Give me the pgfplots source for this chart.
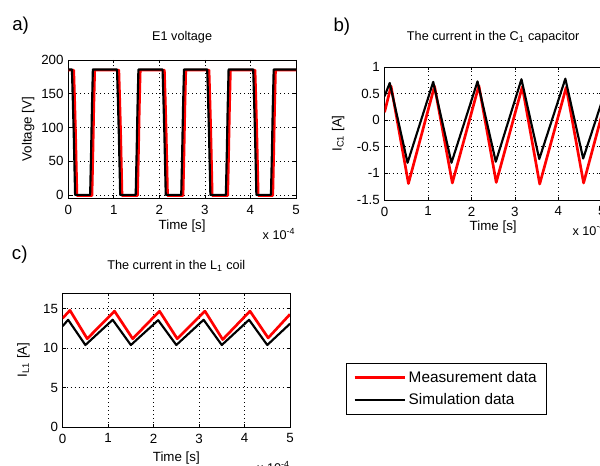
\documentclass[border=0pt]{standalone}
\usepackage{pgfplots}
\pgfplotsset{compat=1.18}
\usepackage{fontspec}
\setmainfont{Liberation Sans}

% matlab-ish look
\pgfplotsset{
  mstyle/.style={
    scale only axis, anchor=south west,
    xmin=0, xmax=5, xtick={0,...,5},
    tick align=inside, major tick length=2.5pt,
    grid=major,
    major grid style={black, line width=0.5pt, dash pattern=on 0.7pt off 2.3pt},
    axis line style={line width=0.6pt},
    every tick/.style={black, line width=0.5pt},
    tick label style={font=\fontsize{10}{12}\selectfont},
    xticklabel style={yshift=-1.5pt},
    label style={font=\fontsize{10}{12}\selectfont},
    title style={font=\fontsize{9.5}{11}\selectfont, anchor=base},
    /pgf/number format/assume math mode=true,
  },
  meas/.style={red, line width=2pt, line join=round},
  sim/.style={black, line width=1.6pt, line join=round},
}

\begin{document}
\begin{tikzpicture}
\path[use as bounding box] (0,0) rectangle (450pt,-349.5pt);

% a) E1 voltage
\begin{axis}[mstyle, at={(51.2pt,-148.7pt)}, width=170.8pt, height=103.7pt,
  ymin=-5, ymax=200, ytick={0,50,...,200},
  title={E1 voltage}, title style={at={(axis description cs:0.5,1)}, yshift=8.8pt},
  xlabel={Time [s]}, xlabel style={at={(axis description cs:0.5,-0.226)}, anchor=base},
  ylabel={Voltage [V]}, ylabel style={at={(axis description cs:-0.176,0.5)}, anchor=center},
]
\addplot[meas] coordinates {
(0,185)(0.12,185)(0.14,140)(0.16,90)(0.18,30)(0.19,-1)(0.52,-1)(0.54,60)(0.56,130)(0.58,185)
(1.11,185)(1.13,140)(1.15,90)(1.17,30)(1.18,-1)(1.52,-1)(1.54,60)(1.56,130)(1.58,185)
(2.11,185)(2.13,140)(2.15,90)(2.17,30)(2.18,-1)(2.52,-1)(2.54,60)(2.56,130)(2.58,185)
(3.09,185)(3.11,140)(3.13,90)(3.15,30)(3.16,-1)(3.50,-1)(3.52,60)(3.54,130)(3.56,185)
(4.10,185)(4.12,140)(4.14,90)(4.16,30)(4.17,-1)(4.49,-1)(4.51,60)(4.53,130)(4.55,185)
(5,185)};
\addplot[sim] coordinates {
(0,186)(0.08,186)(0.10,140)(0.12,90)(0.14,30)(0.15,0)(0.48,0)(0.50,60)(0.52,130)(0.54,186)
(1.07,186)(1.09,140)(1.11,90)(1.13,30)(1.14,0)(1.48,0)(1.50,60)(1.52,130)(1.54,186)
(2.07,186)(2.09,140)(2.11,90)(2.13,30)(2.14,0)(2.48,0)(2.50,60)(2.52,130)(2.54,186)
(3.05,186)(3.07,140)(3.09,90)(3.11,30)(3.12,0)(3.46,0)(3.48,60)(3.50,130)(3.52,186)
(4.06,186)(4.08,140)(4.10,90)(4.12,30)(4.13,0)(4.45,0)(4.47,60)(4.49,130)(4.51,186)
(5,186)};
\end{axis}

% b) current in C1
\begin{axis}[mstyle, at={(288.4pt,-150pt)}, width=163pt, height=99.75pt,
  ymin=-1.5, ymax=1, ytick={-1.5,-1,...,1},
  title={The current in the C\textsubscript{1} capacitor},
  title style={at={(axis description cs:0.5,1)}, yshift=14pt},
  xlabel={Time [s]}, xlabel style={at={(axis description cs:0.5,-0.233)}, anchor=base},
  ylabel={I\textsubscript{C1} [A]}, ylabel style={at={(axis description cs:-0.213,0.5)}, anchor=center},
]
\addplot[meas] coordinates {
(0,0.15)(0.15,0.64)(0.55,-1.19)(1.15,0.64)(1.56,-1.18)(2.17,0.65)(2.57,-1.17)
(3.17,0.63)(3.57,-1.20)(4.18,0.62)(4.58,-1.18)(5,0.1)};
\addplot[sim] coordinates {
(0,0.45)(0.12,0.70)(0.53,-0.80)(1.12,0.72)(1.54,-0.80)(2.14,0.73)(2.56,-0.78)
(3.15,0.77)(3.56,-0.73)(4.16,0.78)(4.57,-0.72)(5,0.35)};
\end{axis}

% c) current in L1
\begin{axis}[mstyle, at={(47pt,-320.25pt)}, width=170.5pt, height=100.5pt,
  ymin=0, ymax=17, ytick={0,5,10,15},
  title={The current in the L\textsubscript{1} coil},
  title style={at={(axis description cs:0.5,1)}, yshift=11.7pt},
  xlabel={Time [s]}, xlabel style={at={(axis description cs:0.5,-0.254)}, anchor=base},
  ylabel={I\textsubscript{L1} [A]}, ylabel style={at={(axis description cs:-0.173,0.5)}, anchor=center},
  legend style={at={(1.2464,0.4776)}, anchor=north west, draw=black, line width=0.6pt,
    font=\fontsize{11.5}{13}\selectfont, inner xsep=5.25pt, inner ysep=3.75pt,
    row sep=2.75pt, cells={anchor=west}},
  legend image code/.code={\draw[#1] (0pt,0pt) -- (37.5pt,0pt);},
]
\addplot[meas] coordinates {
(0,13.8)(0.16,14.8)(0.54,11.2)(1.14,14.7)(1.54,11.2)(2.13,14.7)(2.52,11.2)
(3.13,14.7)(3.52,11.1)(4.12,14.7)(4.52,11.3)(5,14.3)};
\addlegendentry{Measurement data}
\addplot[sim] coordinates {
(0,12.8)(0.12,13.6)(0.5,10.4)(1.1,13.6)(1.5,10.4)(2.1,13.55)(2.5,10.4)
(3.1,13.6)(3.5,10.4)(4.1,13.6)(4.5,10.4)(5,13.1)};
\addlegendentry{Simulation data}
\end{axis}

% panel letters and axis scale notes
\node[anchor=base west, font=\fontsize{14}{16}\selectfont, inner sep=0pt] at (9pt,-23pt) {a)};
\node[anchor=base west, font=\fontsize{14}{16}\selectfont, inner sep=0pt] at (250pt,-23.8pt) {b)};
\node[anchor=base west, font=\fontsize{14}{16}\selectfont, inner sep=0pt] at (8.75pt,-195pt) {c)};
\node[anchor=base east, font=\fontsize{9.5}{11}\selectfont, inner sep=0pt] at (221.6pt,-180pt) {x 10\textsuperscript{-4}};
\node[anchor=base east, font=\fontsize{9.5}{11}\selectfont, inner sep=0pt] at (454pt,-176.3pt) {x 10\textsuperscript{-4}};
\node[anchor=base east, font=\fontsize{9.5}{11}\selectfont, inner sep=0pt] at (217.5pt,-354.75pt) {x 10\textsuperscript{-4}};
\end{tikzpicture}
\end{document}
